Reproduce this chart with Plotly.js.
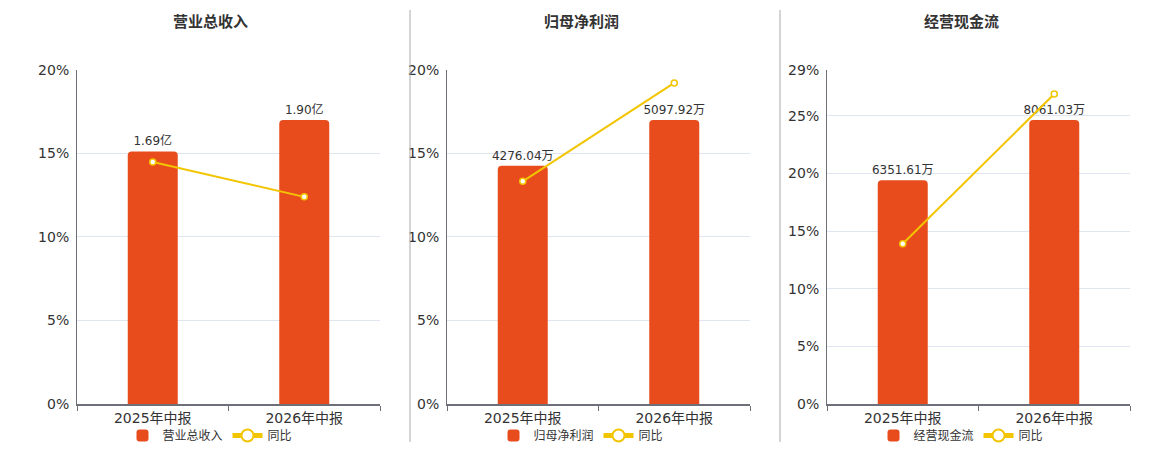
<!DOCTYPE html>
<html><head><meta charset="utf-8">
<script src="https://cdn.plot.ly/plotly-3.0.1.min.js"></script>
<style>html,body{margin:0;padding:0;background:#fff}#chart{width:1160px;height:450px}</style>
</head><body><div id="chart"></div>
<script>
const categories = ['2025年中报', '2026年中报'];
const titles = ['营业总收入', '归母净利润', '经营现金流'];
const revenueValues = [1.69, 1.90];
const revenueLabels = ['1.69亿', '1.90亿'];
const revenueYoY = [14.49, 12.40];
const profitValues = [4276.04, 5097.92];
const profitLabels = ['4276.04万', '5097.92万'];
const profitYoY = [13.33, 19.22];
const cashValues = [6351.61, 8061.03];
const cashLabels = ['6351.61万', '8061.03万'];
const cashYoY = [13.91, 26.91];
const pctTicks1 = [0, 5, 10, 15, 20];
const pctTicks2 = [0, 5, 10, 15, 20];
const pctTicks3 = [0, 5, 10, 15, 20, 25, 29];

const panels = [
  {vals: revenueValues, labels: revenueLabels, yoy: revenueYoY, ticks: pctTicks1},
  {vals: profitValues, labels: profitLabels, yoy: profitYoY, ticks: pctTicks2},
  {vals: cashValues, labels: cashLabels, yoy: cashYoY, ticks: pctTicks3}
];

const W = 1160, H = 450;
const BAR = '#E84C1D', LINE = '#F2C500';
const FONT = 'DejaVu Sans, Noto Sans CJK SC, sans-serif';
const plotX = [[77, 380], [447, 750], [827, 1130]];
const titleX = [210, 581, 961];
const yDom = [(H - 405) / H, (H - 70) / H];

const data = [];
const layout = {
  width: W, height: H,
  margin: {l: 0, r: 0, t: 0, b: 0},
  paper_bgcolor: '#fff', plot_bgcolor: 'rgba(0,0,0,0)',
  font: {family: FONT, color: '#333', size: 12},
  barcornerradius: 4,
  showlegend: true,
  annotations: [],
  shapes: []
};

panels.forEach((p, i) => {
  const n = i + 1;
  const xa = n === 1 ? 'x' : 'x' + n;
  const ybar = 'y' + (2 * n - 1 === 1 ? '' : (2 * n - 1));
  const ypct = 'y' + (2 * n);
  const legendId = n === 1 ? 'legend' : 'legend' + n;
  const xKey = n === 1 ? 'xaxis' : 'xaxis' + n;
  const ybarKey = 'yaxis' + (2 * n - 1 === 1 ? '' : (2 * n - 1));
  const ypctKey = 'yaxis' + (2 * n);
  const maxV = Math.max(...p.vals);

  data.push({
    type: 'bar', x: categories, y: p.vals, text: p.labels,
    textposition: 'outside', cliponaxis: false, constraintext: 'none',
    textfont: {size: 12, color: '#333', family: FONT},
    marker: {color: BAR}, width: 0.33,
    name: titles[i], xaxis: xa, yaxis: ybar, legend: legendId, hoverinfo: 'skip'
  });
  data.push({
    type: 'scatter', mode: 'lines+markers', x: categories, y: p.yoy,
    line: {color: LINE, width: 2},
    marker: {symbol: 'circle', size: 6, color: '#fff', line: {color: LINE, width: 1.5}},
    name: '同比', xaxis: xa, yaxis: ypct, legend: legendId, cliponaxis: false, hoverinfo: 'skip'
  });

  const dom = [plotX[i][0] / W, plotX[i][1] / W];
  layout[xKey] = {
    domain: dom, anchor: ybar, type: 'category',
    showline: true, linecolor: '#6E7079', linewidth: 2,
    ticks: 'outside', tickson: 'boundaries', ticklen: 5, tickcolor: '#6E7079',
    tickfont: {size: 14, color: '#333', family: FONT},
    showgrid: false, zeroline: false, fixedrange: true
  };
  layout[ybarKey] = {
    domain: yDom, anchor: xa, range: [0, maxV / 0.85], visible: false,
    showgrid: false, zeroline: false, fixedrange: true
  };
  const top = p.ticks[p.ticks.length - 1];
  layout[ypctKey] = {
    domain: yDom, anchor: xa, overlaying: ybar, side: 'left',
    range: [0, top], tickvals: p.ticks, ticktext: p.ticks.map(t => t + '%'),
    showline: true, linecolor: '#6E7079', linewidth: 1,
    showgrid: true, gridcolor: '#E0E6F1', gridwidth: 1, zeroline: false,
    ticks: '', ticklabelstandoff: 4,
    tickfont: {size: 14, color: '#333', family: FONT}, fixedrange: true
  };
  layout[legendId] = {
    orientation: 'h', x: titleX[i] / W, xanchor: 'center',
    y: (H - 436) / H, yanchor: 'middle', yref: 'paper',
    font: {size: 12, color: '#333', family: FONT},
    itemsizing: 'constant', bgcolor: 'rgba(0,0,0,0)', traceorder: 'normal',
    tracegroupgap: 0, itemwidth: 30
  };
  layout.annotations.push({
    text: '<b>' + titles[i] + '</b>', x: titleX[i] / W, y: (H - 22) / H,
    xref: 'paper', yref: 'paper', showarrow: false, xanchor: 'center', yanchor: 'middle',
    font: {size: 15, color: '#333', family: FONT}
  });
});

[410, 780].forEach(px => {
  layout.shapes.push({
    type: 'line', xref: 'paper', yref: 'paper',
    x0: px / W, x1: px / W, y0: (H - 443) / H, y1: (H - 10) / H,
    line: {color: '#AAAAAA', width: 1}
  });
});

Plotly.newPlot('chart', data, layout, {displayModeBar: false, staticPlot: true});
</script></body></html>
